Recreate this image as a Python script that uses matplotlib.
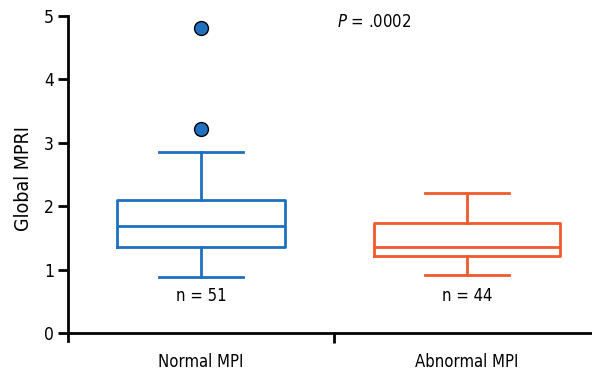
import matplotlib
matplotlib.use("Agg")
import matplotlib.pyplot as plt
from matplotlib import font_manager

# prefer a narrow face if one is installed
names = {f.name for f in font_manager.fontManager.ttflist}
narrow = [n for n in ['Liberation Sans Narrow', 'DejaVu Sans Condensed'] if n in names]
plt.rcParams['font.family'] = narrow + ['DejaVu Sans']
plt.rcParams['font.stretch'] = 'condensed'

groups = ["Normal MPI", "Abnormal MPI"]
n_labels = ["n = 51", "n = 44"]
# box summary stats
whislo = [0.887, 0.923]
q1 = [1.364, 1.218]
med = [1.686, 1.365]
q3 = [2.095, 1.733]
whishi = [2.857, 2.215]
fliers = [[4.815, 3.214], []]
colors = ["#1f70c1", "#f15a29"]
box_widths = [0.635, 0.70]

stats = []
for i, g in enumerate(groups):
    stats.append(dict(label=g, whislo=whislo[i], q1=q1[i], med=med[i],
                      q3=q3[i], whishi=whishi[i], fliers=fliers[i]))

fig = plt.figure(figsize=(5.92, 3.70), dpi=100)
ax = fig.add_axes([68 / 592, 1 - 341 / 370, 1 - 68 / 592, (341 - 16) / 370])

for i, st in enumerate(stats):
    c = colors[i]
    ax.bxp([st], positions=[i + 1], widths=box_widths[i], showfliers=True,
           capwidths=0.316,
           boxprops=dict(color=c, linewidth=2),
           medianprops=dict(color=c, linewidth=2),
           whiskerprops=dict(color=c, linewidth=2),
           capprops=dict(color=c, linewidth=2),
           flierprops=dict(marker='o', markerfacecolor=c, markeredgecolor='black',
                           markeredgewidth=1, markersize=10))
    ax.text(i + 1, 0.59, n_labels[i], ha='center', va='center', fontsize=12)

ax.set_xlim(0.5, 0.5 + 524 / 266)
ax.set_ylim(-0.12, 5.0)
ax.spines['top'].set_visible(False)
ax.spines['right'].set_visible(False)
ax.spines['bottom'].set_position(('data', 0))
ax.spines['left'].set_linewidth(2)
ax.spines['bottom'].set_linewidth(2)

ax.set_yticks([0, 1, 2, 3, 4, 5])
ax.tick_params(axis='y', length=7, width=2, labelsize=12.5, pad=3)
ax.set_xticks([1.5])
ax.set_xticklabels([""])
ax.tick_params(axis='x', which='major', length=7, width=2, direction='out')
ax.set_xticks([1, 2], minor=True)
ax.set_xticklabels(groups, minor=True)
ax.tick_params(axis='x', which='minor', length=0, labelsize=12, pad=14)

ax.set_ylabel("Global MPRI", fontsize=14, labelpad=8)
ax.text(1.51, 4.9, "$P$ = .0002", fontsize=12, ha='left', va='center')

fig.savefig("out.png", dpi=100)
